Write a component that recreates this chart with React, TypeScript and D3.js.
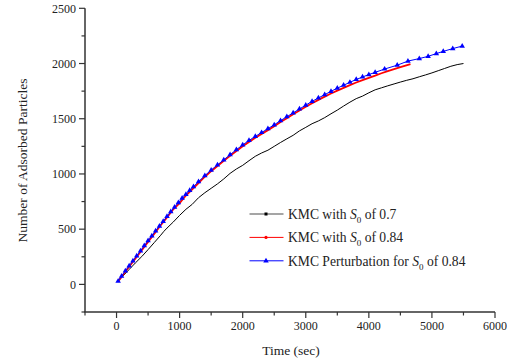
import React from "react";
import * as d3 from "d3";

const blueTimes = [25, 80, 140, 200, 260, 320, 380, 440, 500, 560, 620, 680, 740, 800, 860, 920, 980, 1040, 1100, 1160, 1220, 1300, 1400, 1500, 1600, 1700, 1800, 1900, 2000, 2100, 2200, 2300, 2400, 2500, 2600, 2700, 2800, 2900, 3000, 3100, 3200, 3300, 3400, 3500, 3600, 3700, 3800, 3900, 4000, 4100, 4250, 4450, 4620, 4800, 4940, 5070, 5180, 5330, 5480];
const blueValues = [30, 75, 122, 168, 213, 258, 304, 350, 395, 440, 485, 528, 570, 615, 658, 700, 740, 780, 815, 850, 885, 930, 985, 1035, 1082, 1128, 1174, 1220, 1263, 1303, 1340, 1375, 1410, 1445, 1483, 1518, 1553, 1588, 1623, 1657, 1688, 1718, 1748, 1777, 1803, 1830, 1855, 1878, 1900, 1920, 1950, 1985, 2022, 2045, 2065, 2090, 2110, 2135, 2158];

const redTimes = [25, 100, 200, 300, 400, 500, 600, 700, 800, 900, 1000, 1100, 1200, 1300, 1400, 1500, 1600, 1700, 1800, 1900, 2000, 2100, 2200, 2300, 2400, 2500, 2600, 2700, 2800, 2900, 3000, 3100, 3200, 3300, 3400, 3500, 3600, 3700, 3800, 3900, 4000, 4100, 4200, 4300, 4400, 4500, 4660];
const redValues = [27, 85, 160, 235, 310, 385, 460, 535, 607, 680, 735, 805, 860, 918, 975, 1025, 1072, 1118, 1164, 1208, 1250, 1290, 1327, 1362, 1397, 1432, 1470, 1505, 1540, 1575, 1608, 1640, 1671, 1700, 1728, 1755, 1780, 1805, 1828, 1850, 1870, 1890, 1912, 1932, 1950, 1968, 1995];

const blackTimes = [25, 100, 200, 300, 400, 500, 600, 700, 750, 800, 900, 1000, 1100, 1200, 1300, 1400, 1500, 1600, 1700, 1800, 1900, 2000, 2100, 2200, 2300, 2400, 2500, 2600, 2700, 2800, 2900, 3000, 3100, 3200, 3300, 3400, 3500, 3600, 3700, 3800, 3900, 4000, 4100, 4200, 4300, 4400, 4500, 4600, 4700, 4800, 4900, 5000, 5100, 5200, 5300, 5400, 5500];
const blackValues = [27, 75, 135, 195, 252, 315, 380, 445, 480, 510, 565, 625, 680, 725, 785, 830, 870, 910, 955, 1005, 1045, 1078, 1120, 1160, 1190, 1215, 1250, 1285, 1318, 1350, 1390, 1422, 1455, 1480, 1510, 1545, 1578, 1615, 1650, 1682, 1705, 1735, 1762, 1780, 1798, 1815, 1832, 1848, 1862, 1880, 1897, 1915, 1935, 1955, 1975, 1990, 2000];

const xMajorTicks = [0, 1000, 2000, 3000, 4000, 5000, 6000];
const xMinorTicks = [-500, 500, 1500, 2500, 3500, 4500, 5500];
const yMajorTicks = [0, 500, 1000, 1500, 2000, 2500];
const yMinorTicks = [-250, 250, 750, 1250, 1750, 2250];

const legendItems = [
  { pre: "KMC with ", post: " of 0.7", color: "#000000", marker: "square" },
  { pre: "KMC with ", post: " of 0.84", color: "#ff0000", marker: "circle" },
  { pre: "KMC Perturbation for ", post: " of 0.84", color: "#0000ff", marker: "triangle" },
];

const FONT = "'Liberation Serif', 'Times New Roman', serif";

export default function App() {
  const W = 507, H = 363;
  const x = d3.scaleLinear().domain([-500, 6000]).range([85, 495]);
  const y = d3.scaleLinear().domain([-250, 2500]).range([312, 8.3]);
  const line = d3.line<[number, number]>().x(d => x(d[0])).y(d => y(d[1]));
  const pts = (ts: number[], vs: number[]) => ts.map((t, i) => [t, vs[i]] as [number, number]);
  const tri = d3.symbol().type(d3.symbolTriangle).size(13)();
  const axisColor = "#333";
  const textColor = "#222";

  return (
    <svg width={W} height={H} style={{ position: "absolute", left: 0, top: 0, background: "#fff" }} fontFamily={FONT}>
      <rect width={W} height={H} fill="#fff" />
      <line x1={85} x2={85} y1={y(2500)} y2={312} stroke={axisColor} strokeWidth={1.5} />
      <line x1={84.3} x2={495} y1={312} y2={312} stroke={axisColor} strokeWidth={1.5} />
      {yMajorTicks.map(v => (
        <g key={"ym" + v}>
          <line x1={79} x2={85} y1={y(v)} y2={y(v)} stroke={axisColor} strokeWidth={1.2} />
          <text x={76} y={y(v)} dy="0.35em" textAnchor="end" fontSize={12} fill={textColor}>{v}</text>
        </g>
      ))}
      {yMinorTicks.map(v => (
        <line key={"yn" + v} x1={81.5} x2={85} y1={y(v)} y2={y(v)} stroke={axisColor} strokeWidth={1.2} />
      ))}
      {xMajorTicks.map(v => (
        <g key={"xm" + v}>
          <line x1={x(v)} x2={x(v)} y1={312} y2={318} stroke={axisColor} strokeWidth={1.2} />
          <text x={x(v)} y={330} textAnchor="middle" fontSize={12} fill={textColor}>{v}</text>
        </g>
      ))}
      {xMinorTicks.map(v => (
        <line key={"xn" + v} x1={x(v)} x2={x(v)} y1={312} y2={315.5} stroke={axisColor} strokeWidth={1.2} />
      ))}
      <text x={291} y={355} textAnchor="middle" fontSize={13.5} fill={textColor}>Time (sec)</text>
      <text transform={`translate(27,160.5) rotate(-90)`} textAnchor="middle" fontSize={13.5} fill={textColor}>Number of Adsorbed Particles</text>

      <path d={line(pts(blackTimes, blackValues)) || ""} fill="none" stroke="#000" strokeWidth={1} />
      <path d={line(pts(redTimes, redValues)) || ""} fill="none" stroke="#ff0000" strokeWidth={1.8} />
      <path d={line(pts(blueTimes, blueValues)) || ""} fill="none" stroke="#0000ff" strokeWidth={1} />
      {blueTimes.map((t, i) => (
        <path key={"bt" + i} d={tri || ""} transform={`translate(${x(t)},${y(blueValues[i])})`} fill="#0000ff" />
      ))}

      {legendItems.map((it, i) => {
        const ly = 214 + i * 23.4;
        return (
          <g key={"lg" + i}>
            <line x1={249.5} x2={283.5} y1={ly} y2={ly} stroke={it.color} strokeWidth={1} opacity={i === 0 ? 0.7 : 1} />
            {it.marker === "square" && <rect x={264.5} y={ly - 1.5} width={3} height={3} fill={it.color} />}
            {it.marker === "circle" && <circle cx={266} cy={ly} r={1.6} fill={it.color} />}
            {it.marker === "triangle" && <path d={tri || ""} transform={`translate(266,${ly})`} fill={it.color} />}
            <text x={288} y={ly} dy="0.35em" fontSize={13.6} fill={textColor}>
              {it.pre}
              <tspan fontStyle="italic">S</tspan>
              <tspan fontSize={9} dy={4}>0</tspan>
              <tspan dy={-4}>{it.post}</tspan>
            </text>
          </g>
        );
      })}
    </svg>
  );
}
